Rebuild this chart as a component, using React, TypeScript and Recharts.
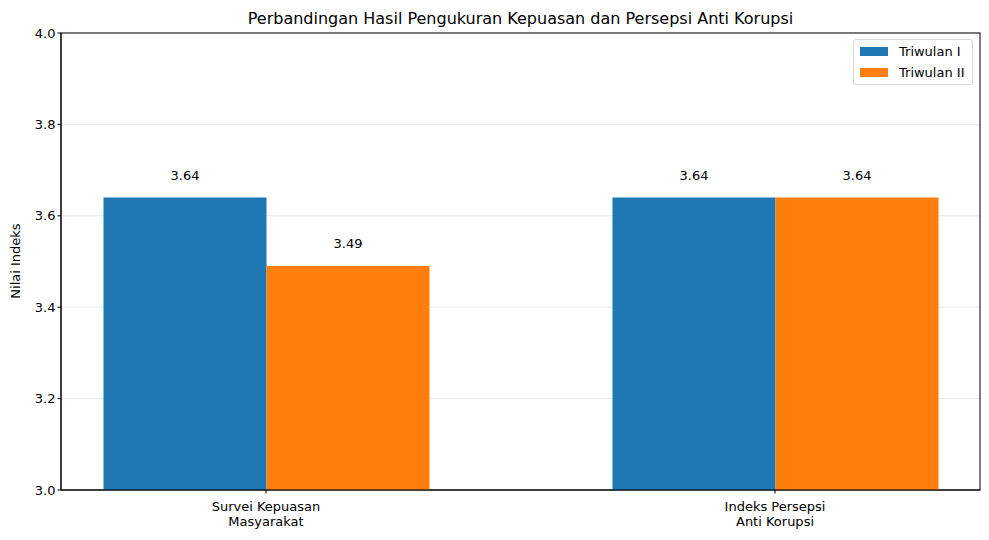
import React from "react";
import { BarChart, Bar, XAxis, YAxis, CartesianGrid, LabelList } from "recharts";

const categories = ["Survei Kepuasan\nMasyarakat", "Indeks Persepsi\nAnti Korupsi"];
const triwulan1 = [3.64, 3.64];
const triwulan2 = [3.49, 3.64];
const yTicks = [3.0, 3.2, 3.4, 3.6, 3.8, 4.0];
const seriesNames = ["Triwulan I", "Triwulan II"];
const colors = ["#1f77b4", "#ff7f0e"];
const title = "Perbandingan Hasil Pengukuran Kepuasan dan Persepsi Anti Korupsi";
const yLabel = "Nilai Indeks";

const data = categories.map((c, i) => ({ cat: c, t1: triwulan1[i], t2: triwulan2[i] }));

const FONT = "'DejaVu Sans', sans-serif";

const XTick = (props: any) => {
  const { x, y, payload } = props;
  const lines = String(payload.value).split("\n");
  return (
    <g transform={`translate(${x},${y})`}>
      {lines.map((l: string, i: number) => (
        <text key={i} x={0} y={15 + i * 15} textAnchor="middle" fontSize={13} fontFamily={FONT} fill="#000">
          {l}
        </text>
      ))}
    </g>
  );
};

const LegendBox = () => (
  <div
    style={{
      position: "absolute",
      left: 853,
      top: 39,
      width: 120,
      height: 46,
      border: "1px solid #d9d9d9",
      borderRadius: 3,
      background: "rgba(255,255,255,0.8)",
      fontFamily: FONT,
      fontSize: 13,
      boxSizing: "border-box",
      padding: "1px 0 0 6px",
    }}
  >
    {seriesNames.map((n, i) => (
      <div key={n} style={{ display: "flex", alignItems: "center", height: 21 }}>
        <div style={{ width: 28, height: 9, background: colors[i], marginRight: 11 }} />
        <span>{n}</span>
      </div>
    ))}
  </div>
);

export default function App() {
  return (
    <div style={{ position: "absolute", left: 0, top: 0, width: 989, height: 540, background: "#fff" }}>
      <BarChart
        width={989}
        height={540}
        data={data}
        margin={{ top: 33, right: 9, bottom: 0, left: 0 }}
        barGap={0}
        barCategoryGap={0}
      >
        <text x={520.5} y={24} textAnchor="middle" fontSize={16} fontFamily={FONT} fill="#000">
          {title}
        </text>
        <text
          x={20}
          y={261}
          textAnchor="middle"
          fontSize={13}
          fontFamily={FONT}
          fill="#000"
          transform="rotate(-90 20 261)"
        >
          {yLabel}
        </text>
        <CartesianGrid vertical={false} stroke="#e6e6e6" strokeWidth={1} />
        <XAxis
          dataKey="cat"
          height={50}
          padding={{ left: -49.5, right: -49.5 }}
          tick={<XTick />}
          tickLine={{ stroke: "#000" }}
          tickSize={3.5}
          axisLine={{ stroke: "#000" }}
          interval={0}
        />
        <YAxis
          domain={[3, 4]}
          ticks={yTicks}
          type="number"
          allowDataOverflow
          width={61}
          tickFormatter={(v: number) => v.toFixed(1)}
          tick={{ fontSize: 13, fontFamily: FONT, fill: "#000" }}
          tickLine={{ stroke: "#000" }}
          tickSize={3.5}
          axisLine={{ stroke: "#000" }}
        />
        <Bar dataKey="t1" name={seriesNames[0]} fill={colors[0]} barSize={163} isAnimationActive={false}>
          <LabelList dataKey="t1" position="top" offset={18} fontSize={13} fontFamily={FONT} fill="#000" formatter={(v: number) => v.toFixed(2)} />
        </Bar>
        <Bar dataKey="t2" name={seriesNames[1]} fill={colors[1]} barSize={163} isAnimationActive={false}>
          <LabelList dataKey="t2" position="top" offset={18} fontSize={13} fontFamily={FONT} fill="#000" formatter={(v: number) => v.toFixed(2)} />
        </Bar>
        <rect x={61} y={33} width={919} height={457} fill="none" stroke="#000" strokeWidth={1} />
      </BarChart>
      <LegendBox />
    </div>
  );
}
